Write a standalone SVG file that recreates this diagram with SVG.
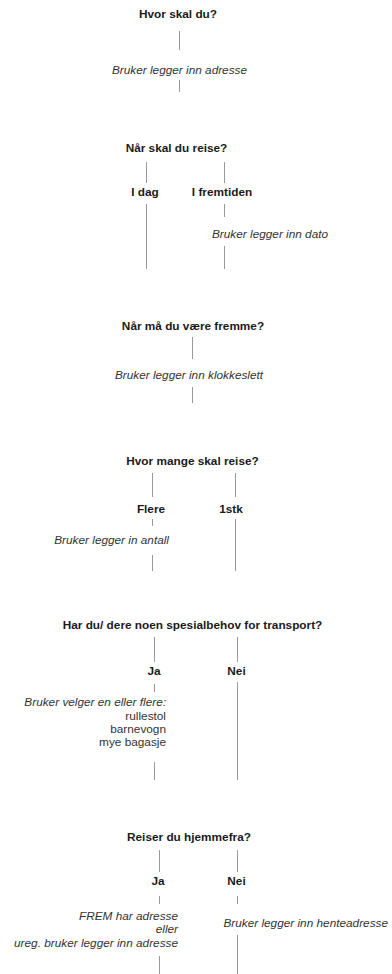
<svg xmlns="http://www.w3.org/2000/svg" width="392" height="974" viewBox="0 0 392 974">
<style>
text{font-family:"Liberation Sans",Arial,Helvetica,sans-serif;font-size:11.8px;fill:#1a1a1a}
.q{font-weight:bold;text-anchor:middle}
.o{font-weight:bold;text-anchor:middle}
.i{font-style:italic;fill:#333}
.m{text-anchor:middle}
.e{text-anchor:end}
.n{fill:#333}
line{stroke:#999;stroke-width:1}
</style>
<rect width="392" height="974" fill="#fff"/>
<g id="connectors">
<line x1="179.5" y1="31" x2="179.5" y2="50"/>
<line x1="179.5" y1="80" x2="179.5" y2="92"/>
<line x1="146.5" y1="162" x2="146.5" y2="183"/>
<line x1="224.5" y1="162" x2="224.5" y2="183"/>
<line x1="146.5" y1="204" x2="146.5" y2="269"/>
<line x1="224.5" y1="204" x2="224.5" y2="217"/>
<line x1="224.5" y1="246" x2="224.5" y2="269"/>
<line x1="192.5" y1="337" x2="192.5" y2="359"/>
<line x1="192.5" y1="387" x2="192.5" y2="403"/>
<line x1="152.5" y1="473" x2="152.5" y2="497"/>
<line x1="235.5" y1="473" x2="235.5" y2="497"/>
<line x1="152.5" y1="519" x2="152.5" y2="526"/>
<line x1="235.5" y1="519" x2="235.5" y2="571"/>
<line x1="152.5" y1="555" x2="152.5" y2="571"/>
<line x1="154.5" y1="637" x2="154.5" y2="662"/>
<line x1="237.5" y1="637" x2="237.5" y2="662"/>
<line x1="154.5" y1="684" x2="154.5" y2="692"/>
<line x1="237.5" y1="682" x2="237.5" y2="780"/>
<line x1="154.5" y1="762" x2="154.5" y2="780"/>
<line x1="159.5" y1="850" x2="159.5" y2="872"/>
<line x1="237.5" y1="850" x2="237.5" y2="872"/>
<line x1="159.5" y1="896" x2="159.5" y2="904"/>
<line x1="237.5" y1="896" x2="237.5" y2="904"/>
<line x1="159.5" y1="956" x2="159.5" y2="974"/>
<line x1="237.5" y1="935" x2="237.5" y2="974"/>
</g>
<g id="q1"><text class="q" x="178" y="18">Hvor skal du?</text></g>
<g id="a1"><text class="i m" x="179.5" y="74">Bruker legger inn adresse</text></g>
<g id="q2"><text class="q" x="176.5" y="152">Når skal du reise?</text></g>
<g id="q2-idag"><text class="o" x="145" y="196">I dag</text></g>
<g id="q2-fremtiden"><text class="o" x="222" y="196">I fremtiden</text></g>
<g id="q2-dato"><text class="i" x="212" y="238">Bruker legger inn dato</text></g>
<g id="q3"><text class="q" x="193" y="330">Når må du være fremme?</text></g>
<g id="a3"><text class="i m" x="189" y="379">Bruker legger inn klokkeslett</text></g>
<g id="q4"><text class="q" x="192.5" y="465">Hvor mange skal reise?</text></g>
<g id="q4-flere"><text class="o" x="151" y="513">Flere</text></g>
<g id="q4-1stk"><text class="o" x="231" y="513">1stk</text></g>
<g id="q4-antall"><text class="i e" x="169" y="544">Bruker legger in antall</text></g>
<g id="q5"><text class="q" x="192.5" y="629">Har du/ dere noen spesialbehov for transport?</text></g>
<g id="q5-ja"><text class="o" x="154" y="675">Ja</text></g>
<g id="q5-nei"><text class="o" x="236.5" y="675">Nei</text></g>
<g id="q5-valg">
<text class="i e" x="166" y="706">Bruker velger en eller flere:</text>
<text class="n e" x="166" y="720">rullestol</text>
<text class="n e" x="166" y="733">barnevogn</text>
<text class="n e" x="166" y="746">mye bagasje</text>
</g>
<g id="q6"><text class="q" x="189" y="841">Reiser du hjemmefra?</text></g>
<g id="q6-ja"><text class="o" x="158" y="885">Ja</text></g>
<g id="q6-nei"><text class="o" x="236.5" y="885">Nei</text></g>
<g id="q6-ja-adr">
<text class="i e" x="178" y="920">FREM har adresse</text>
<text class="i e" x="178" y="933">eller</text>
<text class="i e" x="178" y="947">ureg. bruker legger inn adresse</text>
</g>
<g id="q6-nei-adr"><text class="i" x="388" y="927" text-anchor="end">Bruker legger inn henteadresse</text></g>
</svg>
